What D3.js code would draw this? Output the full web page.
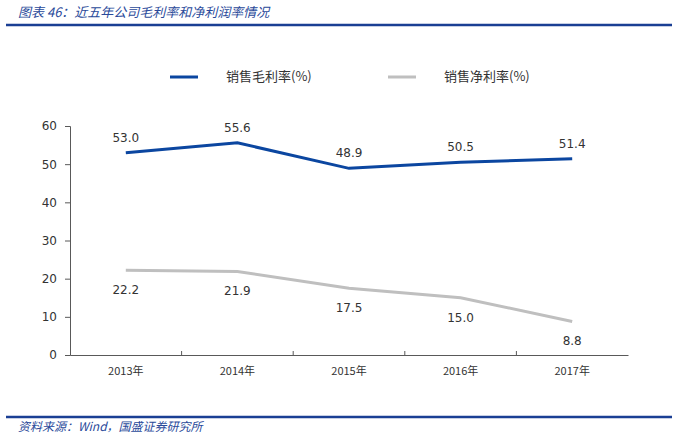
<!DOCTYPE html>
<html>
<head>
<meta charset="utf-8">
<script src="https://cdn.jsdelivr.net/npm/d3@7"></script>
<style>
  body { margin: 0; background: #fff; }
  text { font-family: "Noto Sans CJK SC", "DejaVu Sans", sans-serif; }
</style>
</head>
<body>
<div id="chart"></div>
<script>
// Data
const years = ['2013年', '2014年', '2015年', '2016年', '2017年'];
const grossMargin = [53.0, 55.6, 48.9, 50.5, 51.4];
const netMargin = [22.2, 21.9, 17.5, 15.0, 8.8];
const yTicks = [0, 10, 20, 30, 40, 50, 60];
const seriesNames = ['销售毛利率(%)', '销售净利率(%)'];

const svgWidth = 678, svgHeight = 435;
const margin = { top: 126, right: 50, bottom: 80, left: 70 };
const chartWidth = svgWidth - margin.left - margin.right;
const chartHeight = svgHeight - margin.top - margin.bottom;

const blue = '#0b46a0';
const gray = '#bfbfbf';
const frame = '#1a3f94';

let svg = d3.select('#chart').append('svg')
    .attr('width', svgWidth)
    .attr('height', svgHeight);

// Title and rules
svg.append('text')
    .attr('x', 18).attr('y', 17)
    .style('font-size', '13px')
    .style('font-style', 'italic')
    .style('fill', '#2a4a9a')
    .text('图表 46：近五年公司毛利率和净利润率情况');

svg.append('line')
    .attr('x1', 6).attr('x2', 672).attr('y1', 25).attr('y2', 25)
    .style('stroke', frame).style('stroke-width', 2.5);

svg.append('line')
    .attr('x1', 6).attr('x2', 672).attr('y1', 417).attr('y2', 417)
    .style('stroke', frame).style('stroke-width', 2.5);

svg.append('text')
    .attr('x', 18).attr('y', 431)
    .style('font-size', '12px')
    .style('font-style', 'italic')
    .style('fill', '#2a4a9a')
    .text('资料来源：Wind，国盛证券研究所');

// Legend
const legendX = [170, 388];
const colors = [blue, gray];
seriesNames.forEach((name, i) => {
    svg.append('line')
        .attr('x1', legendX[i]).attr('x2', legendX[i] + 28)
        .attr('y1', 77).attr('y2', 77)
        .style('stroke', colors[i]).style('stroke-width', 3);
    svg.append('text')
        .attr('x', legendX[i] + 56).attr('y', 81)
        .style('font-size', '13px')
        .style('fill', '#333')
        .text(name);
});

let chart = svg.append('g')
    .attr('transform', `translate(${margin.left}, ${margin.top})`);

let xScale = d3.scaleBand()
    .domain(years)
    .range([0, chartWidth]);

let yScale = d3.scaleLinear()
    .domain([0, 60])
    .range([chartHeight, 0]);

// Y axis
let yAxis = chart.append('g')
    .call(d3.axisLeft(yScale).tickValues(yTicks).tickSize(5).tickPadding(8));
yAxis.select('.domain').style('stroke', '#595959');
yAxis.selectAll('.tick line').style('stroke', '#595959');
yAxis.selectAll('.tick text')
    .style('font-size', '12px').style('fill', '#333')
    .style('font-family', '"DejaVu Sans", sans-serif');

// X axis with ticks between categories
let xAxis = chart.append('g')
    .attr('transform', `translate(0, ${chartHeight})`)
    .call(d3.axisBottom(xScale).tickSize(0).tickPadding(12));
xAxis.select('.domain').style('stroke', '#595959');
xAxis.selectAll('.tick text')
    .style('font-size', '11px').style('fill', '#333');

xAxis.selectAll('.sep')
    .data(years.slice(1))
    .enter()
    .append('line')
    .attr('class', 'sep')
    .attr('x1', d => xScale(d)).attr('x2', d => xScale(d))
    .attr('y1', 0).attr('y2', -4)
    .style('stroke', '#595959');

const cx = (d, i) => xScale(years[i]) + xScale.bandwidth() / 2;

const line = d3.line()
    .x((d, i) => xScale(years[i]) + xScale.bandwidth() / 2)
    .y(d => yScale(d));

chart.append('path')
    .datum(grossMargin)
    .attr('d', line)
    .style('fill', 'none')
    .style('stroke', blue)
    .style('stroke-width', 3);

chart.append('path')
    .datum(netMargin)
    .attr('d', line)
    .style('fill', 'none')
    .style('stroke', gray)
    .style('stroke-width', 3);

// Data labels
chart.selectAll('.gl')
    .data(grossMargin)
    .enter()
    .append('text')
    .attr('class', 'gl')
    .attr('x', cx)
    .attr('y', d => yScale(d) - 11)
    .attr('text-anchor', 'middle')
    .style('font-size', '12px').style('fill', '#333')
    .style('font-family', '"DejaVu Sans", sans-serif')
    .text(d => d.toFixed(1));

chart.selectAll('.nl')
    .data(netMargin)
    .enter()
    .append('text')
    .attr('class', 'nl')
    .attr('x', cx)
    .attr('y', d => yScale(d) + 24)
    .attr('text-anchor', 'middle')
    .style('font-size', '12px').style('fill', '#333')
    .style('font-family', '"DejaVu Sans", sans-serif')
    .text(d => d.toFixed(1));
</script>
</body>
</html>
